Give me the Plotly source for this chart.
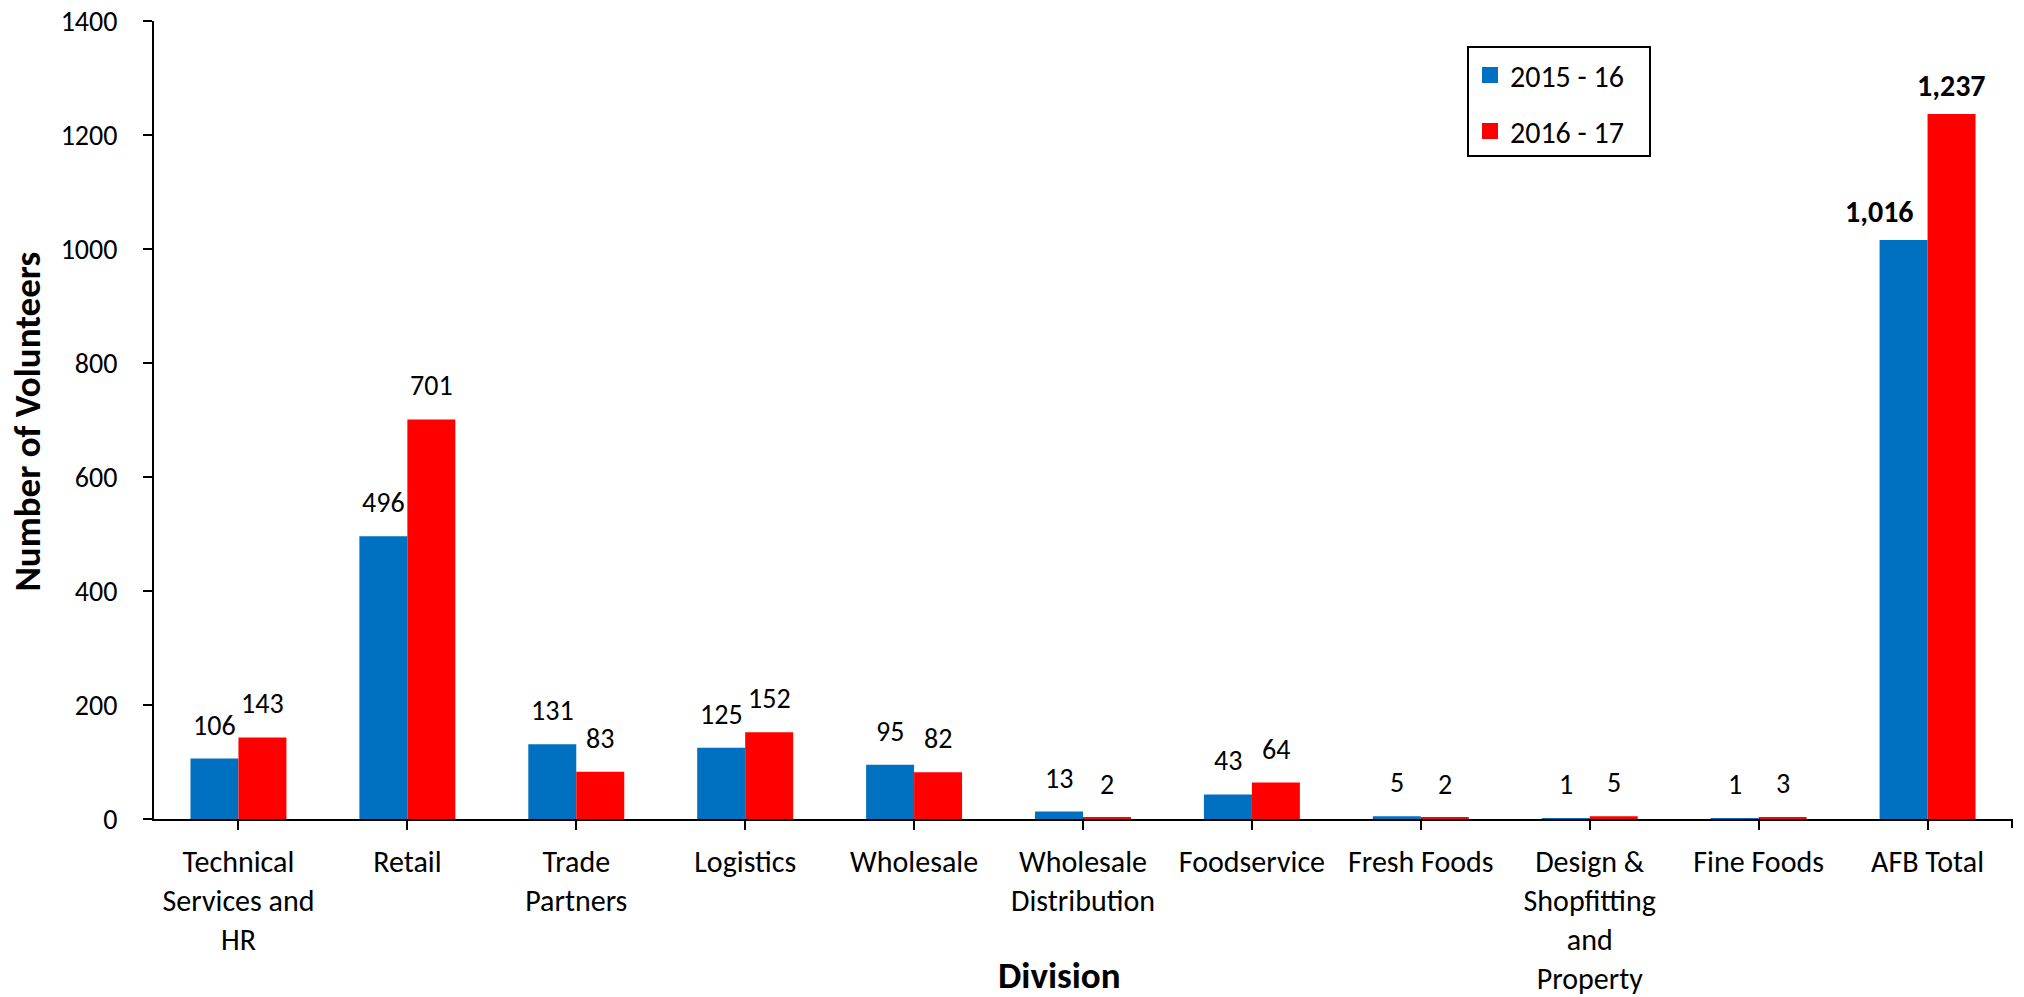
import plotly.graph_objects as go

# Volunteers per division, two financial years
divisions = [
    "Technical<br>Services and<br>HR", "Retail", "Trade<br>Partners", "Logistics",
    "Wholesale", "Wholesale<br>Distribution", "Foodservice", "Fresh Foods",
    "Design &<br>Shopfitting<br>and<br>Property", "Fine Foods", "AFB Total",
]
vol_2015_16 = [106, 496, 131, 125, 95, 13, 43, 5, 1, 1, 1016]
vol_2016_17 = [143, 701, 83, 152, 82, 2, 64, 2, 5, 3, 1237]
series_names = ["2015 - 16", "2016 - 17"]
series_colors = ["#0070C0", "#FF0000"]

FONT = "Carlito, Lato, sans-serif"
W, H = 2024, 997
M_L, M_R, M_T, M_B = 154, 12, 21, 178
BARGAP = 0.432
plot_w = W - M_L - M_R
plot_h = H - M_T - M_B


def px_x(px):
    return (px - M_L) / plot_w


def px_y(py):
    return (H - M_B - py) / plot_h


fig = go.Figure()
for name, vals, col in zip(series_names, [vol_2015_16, vol_2016_17], series_colors):
    fig.add_trace(go.Bar(
        x=divisions, y=vals, name=name, marker_color=col,
        marker_line_width=0, showlegend=False,
    ))
# legend entries drawn as square swatches
for name, col in zip(series_names, series_colors):
    fig.add_trace(go.Scatter(
        x=[None], y=[None], mode="markers", name=name, legendgroup=name,
        marker=dict(symbol="square", size=18, color=col), showlegend=True,
    ))

# value labels above each bar
cat_w = plot_w / len(divisions)
bar_w = cat_w * (1 - BARGAP) / 2
total_idx = len(divisions) - 1
for s, vals in enumerate([vol_2015_16, vol_2016_17]):
    offset = (s - 0.5) * bar_w
    for i, v in enumerate(vals):
        is_total = i == total_idx
        txt = f"<b>{v:,}</b>" if is_total else str(v)
        extra = -24 if (is_total and s == 0) else 0
        fig.add_annotation(
            x=divisions[i], y=v, xref="x", yref="y",
            text=txt, showarrow=False, xanchor="center", yanchor="bottom",
            xshift=offset + extra, yshift=8 if is_total else 14,
            font=dict(family=FONT, size=30 if is_total else 28, color="black"),
        )

# axis titles
fig.add_annotation(
    x=px_x(1059), y=px_y(975), xref="paper", yref="paper",
    text="<b>Division</b>", showarrow=False,
    xanchor="center", yanchor="middle", font=dict(family=FONT, size=37, color="black"),
)
fig.add_annotation(
    x=px_x(28), y=0.498, xref="paper", yref="paper",
    text="<b>Number of Volunteers</b>", showarrow=False, textangle=-90,
    xanchor="center", yanchor="middle", font=dict(family=FONT, size=37, color="black"),
)

# closing tick at the right end of the category axis
fig.add_shape(type="line", xref="paper", yref="paper", x0=1, x1=1, y0=0, y1=-9 / plot_h,
              line=dict(color="black", width=2))
# legend frame
fig.add_shape(type="rect", xref="paper", yref="paper",
              x0=px_x(1468), x1=px_x(1650), y0=px_y(156), y1=px_y(47),
              line=dict(color="black", width=2), fillcolor="rgba(0,0,0,0)")

fig.update_layout(
    width=W, height=H,
    margin=dict(l=M_L, r=M_R, t=M_T, b=M_B, autoexpand=False),
    plot_bgcolor="white", paper_bgcolor="white",
    barmode="group", bargap=BARGAP, bargroupgap=0,
    font=dict(family=FONT, size=28, color="black"),
    showlegend=True,
    legend=dict(
        x=px_x(1470), y=px_y(49),
        xanchor="left", yanchor="top",
        borderwidth=0, bgcolor="rgba(0,0,0,0)",
        font=dict(family=FONT, size=30), tracegroupgap=14,
        traceorder="grouped",
    ),
    xaxis=dict(
        range=[-0.5, len(divisions) - 0.5], automargin=False,
        showline=True, linecolor="black", linewidth=2,
        ticks="outside", ticklen=9, tickwidth=2, tickcolor="black",
        tickangle=0, showgrid=False, ticklabelstandoff=6,
        tickfont=dict(family=FONT, size=30),
    ),
    yaxis=dict(
        range=[0, 1400], dtick=200, automargin=False,
        showline=True, linecolor="black", linewidth=2,
        ticks="outside", ticklen=9, tickwidth=2, tickcolor="black",
        showgrid=False, zeroline=False, ticklabelstandoff=20,
        tickfont=dict(family=FONT, size=28),
    ),
)

fig.write_html("out.html")
